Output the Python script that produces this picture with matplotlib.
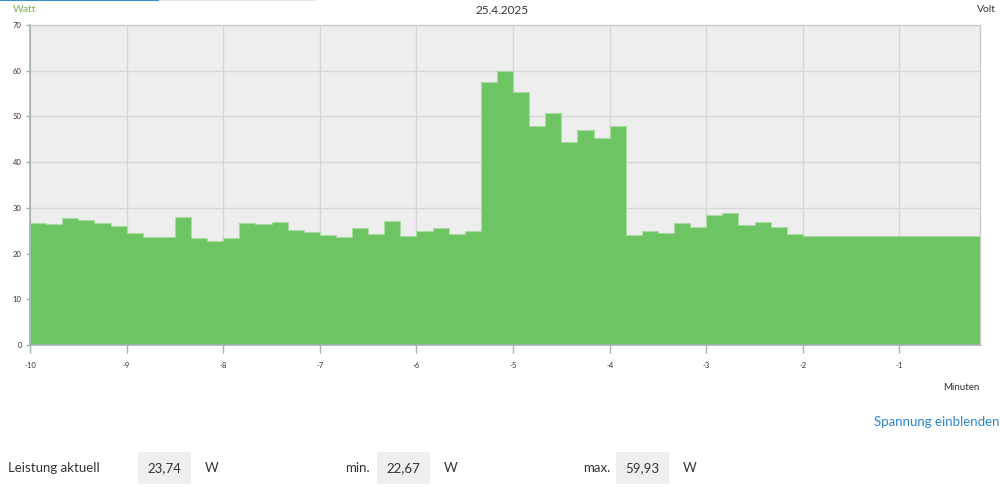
import numpy as np
import matplotlib.pyplot as plt
from matplotlib.patches import Rectangle

plt.rcParams['font.family'] = ['Lato', 'DejaVu Sans']
plt.rcParams['axes.unicode_minus'] = False

# power in watt, one value every 10 seconds, from -10 min
watt = [26.6, 26.5, 27.7, 27.3, 26.6, 26.1, 24.4, 23.6, 23.7, 27.9,
        23.3, 22.67, 23.3, 26.6, 26.4, 27.0, 25.2, 24.8, 24.0, 23.7,
        25.5, 24.3, 27.2, 23.9, 24.9, 25.7, 24.2, 24.9,
        57.6, 59.93, 55.3, 47.8, 50.7, 44.3, 47.0, 45.2, 47.8,
        24.0, 25.0, 24.5, 26.6, 25.9, 28.5, 28.9, 26.3, 26.9, 25.9, 24.3,
        23.74, 23.74, 23.74, 23.74, 23.74, 23.74, 23.74, 23.74, 23.74, 23.74, 23.74]
x_ticks = [-10, -9, -8, -7, -6, -5, -4, -3, -2, -1]
y_ticks = [0, 10, 20, 30, 40, 50, 60, 70]
date_label = '25.4.2025'
stats = [('Leistung aktuell', '23,74'), ('min.', '22,67'), ('max.', '59,93')]

GREEN = '#6cc463'
TEXT = '#333333'

fig = plt.figure(figsize=(10, 4.87), dpi=100)
ax = fig.add_axes([0.03, 1 - 345 / 487, 0.95, 320 / 487])

edges = -10 + np.arange(len(watt) + 1) / 6.0
ax.stairs(watt, edges, fill=True, color=GREEN, zorder=3)
ax.stairs(watt, edges, fill=False, color='#a8dca0', lw=0.8, zorder=4)

ax.set_xlim(-10, edges[-1])
ax.set_ylim(0, 70)
ax.set_facecolor('#eeeeee')
ax.set_xticks(x_ticks)
ax.set_yticks(y_ticks)
ax.grid(True, color='#d6d6d6', lw=1, zorder=1)
ax.set_axisbelow(True)
for s in ['top', 'right']:
    ax.spines[s].set_color('#c8cccc')
    ax.spines[s].set_linewidth(1)
for s in ['left', 'bottom']:
    ax.spines[s].set_color('#a3b1b1')
    ax.spines[s].set_linewidth(1.2)
for sp in ax.spines.values():
    sp.set_zorder(6)
ax.tick_params(axis='x', length=6, width=1, color='#a3b1b1', labelsize=5.5,
               labelcolor=TEXT, pad=6)
ax.tick_params(axis='y', length=3, width=1, color='#a3b1b1', labelsize=5.5,
               labelcolor=TEXT, pad=3)

# header
fig.text(0.013, 1 - 9 / 487, 'Watt', color='#7ab648', fontsize=7.5, va='center')
fig.text(0.502, 1 - 10 / 487, date_label, color=TEXT, fontsize=8.5, va='center', ha='center')
fig.text(0.996, 1 - 9 / 487, 'Volt', color=TEXT, fontsize=7.5, va='center', ha='right')
fig.add_artist(plt.Line2D([0, 0.16], [0.999, 0.999], color='#3a8ed8', lw=1.5))
fig.add_artist(plt.Line2D([0.16, 0.315], [0.999, 0.999], color='#e6e6e6', lw=1.5))

fig.text(0.979, 1 - 387 / 487, 'Minuten', color=TEXT, fontsize=7, va='center', ha='right')
fig.text(0.999, 1 - 422 / 487, 'Spannung einblenden', color='#2a86d1', fontsize=9.5,
         va='center', ha='right')

# stats row
label_x = [0.008, 0.345, 0.583]
box_x = [0.138, 0.377, 0.616]
yc = 1 - 468 / 487
for (lab, val), lx, bx in zip(stats, label_x, box_x):
    fig.text(lx, yc, lab, color=TEXT, fontsize=9.5, va='center')
    fig.add_artist(Rectangle((bx, 1 - 484 / 487), 0.053, 32 / 487,
                             transform=fig.transFigure, facecolor='#efefef',
                             edgecolor='none'))
    fig.text(bx + 0.0265, yc, val, color=TEXT, fontsize=9.5, va='center', ha='center')
    fig.text(bx + 0.067, yc, 'W', color=TEXT, fontsize=9.5, va='center')

fig.savefig('out.png', dpi=100)
